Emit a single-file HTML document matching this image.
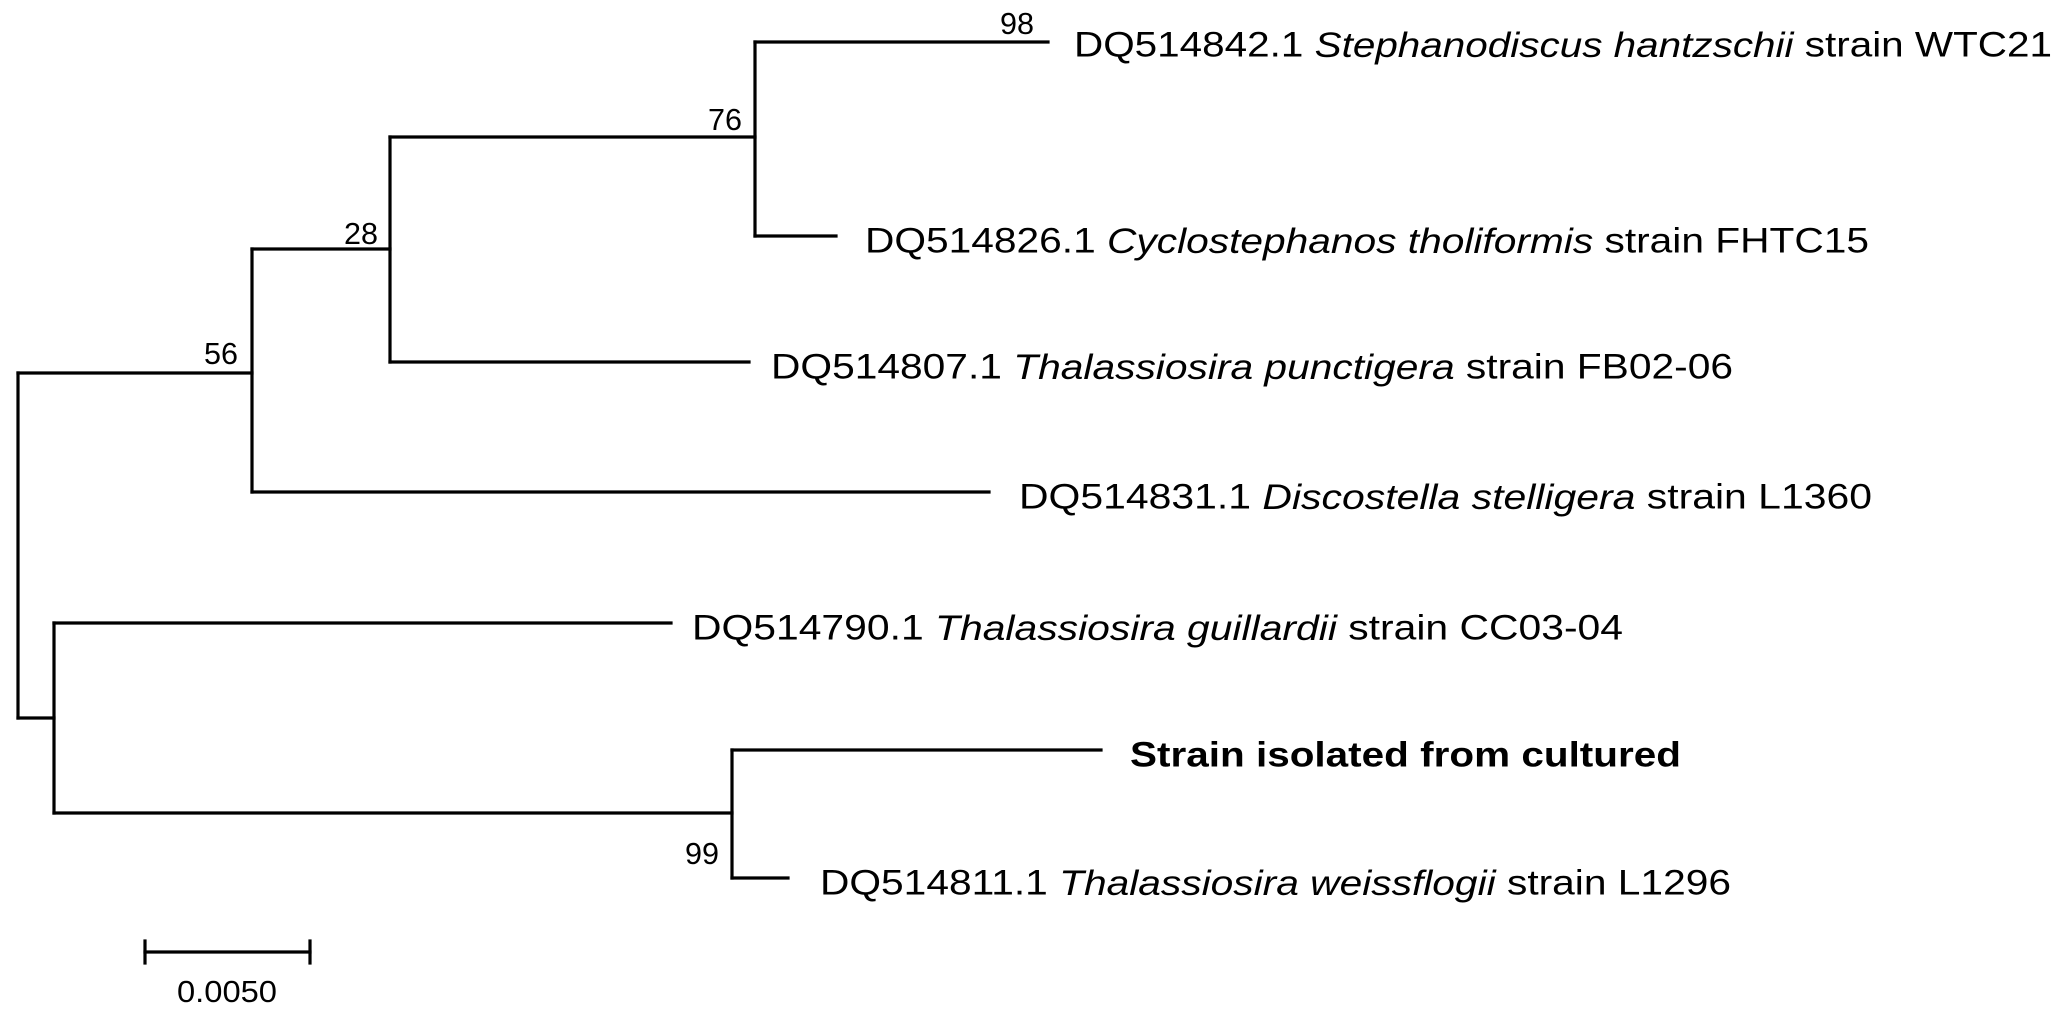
<!DOCTYPE html>
<html><head><meta charset="utf-8"><style>html,body{margin:0;padding:0;background:#fff}svg{display:block}</style></head>
<body>
<svg width="2067" height="1015" viewBox="0 0 2067 1015" xmlns="http://www.w3.org/2000/svg" font-family="Liberation Sans, Arial, sans-serif">
<g stroke="#000" stroke-width="3.2" fill="none" stroke-linecap="square">
<path d="M18 373 V718"/>
<path d="M18 373 H252"/>
<path d="M18 718 H54"/>
<path d="M252 249 V492"/>
<path d="M252 249 H390"/>
<path d="M252 492 H989"/>
<path d="M390 137 V362"/>
<path d="M390 137 H755"/>
<path d="M390 362 H749"/>
<path d="M755 42 V236"/>
<path d="M755 42 H1048"/>
<path d="M755 236 H836"/>
<path d="M54 623 V813"/>
<path d="M54 623 H671"/>
<path d="M54 813 H732"/>
<path d="M732 750 V878"/>
<path d="M732 750 H1101"/>
<path d="M732 878 H788"/>
<path d="M145 952 H310"/>
<path d="M145 941 V963"/>
<path d="M310 941 V963"/>
</g>
<g font-size="31" fill="#000" text-anchor="middle">
<text x="1017" y="34" textLength="34" lengthAdjust="spacingAndGlyphs">98</text>
<text x="725" y="130" textLength="34" lengthAdjust="spacingAndGlyphs">76</text>
<text x="361" y="244" textLength="34" lengthAdjust="spacingAndGlyphs">28</text>
<text x="221" y="364" textLength="34" lengthAdjust="spacingAndGlyphs">56</text>
<text x="702" y="864" textLength="34" lengthAdjust="spacingAndGlyphs">99</text>
<text x="227" y="1002" textLength="100" lengthAdjust="spacingAndGlyphs">0.0050</text>
</g>
<g font-size="35" fill="#000" dominant-baseline="central">
<text x="1074" y="45" textLength="978" lengthAdjust="spacingAndGlyphs">DQ514842.1 <tspan font-style="italic">Stephanodiscus hantzschii</tspan> strain WTC21</text>
<text x="865" y="241" textLength="1004" lengthAdjust="spacingAndGlyphs">DQ514826.1 <tspan font-style="italic">Cyclostephanos tholiformis</tspan> strain FHTC15</text>
<text x="771" y="367" textLength="962" lengthAdjust="spacingAndGlyphs">DQ514807.1 <tspan font-style="italic">Thalassiosira punctigera</tspan> strain FB02-06</text>
<text x="1019" y="497" textLength="853" lengthAdjust="spacingAndGlyphs">DQ514831.1 <tspan font-style="italic">Discostella stelligera</tspan> strain L1360</text>
<text x="692" y="628" textLength="931" lengthAdjust="spacingAndGlyphs">DQ514790.1 <tspan font-style="italic">Thalassiosira guillardii</tspan> strain CC03-04</text>
<text x="1130" y="755" font-weight="bold" textLength="551" lengthAdjust="spacingAndGlyphs">Strain isolated from cultured</text>
<text x="820" y="883" textLength="911" lengthAdjust="spacingAndGlyphs">DQ514811.1 <tspan font-style="italic">Thalassiosira weissflogii</tspan> strain L1296</text>
</g>
</svg>
</body></html>
